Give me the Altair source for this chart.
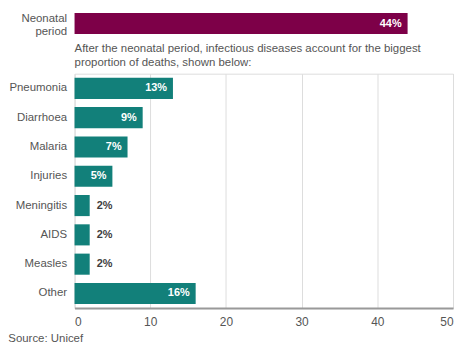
import altair as alt
import pandas as pd

top_cat = ["Neonatal period"]
top_val = [44]
causes = ["Pneumonia", "Diarrhoea", "Malaria", "Injuries", "Meningitis", "AIDS", "Measles", "Other"]
values = [13, 9, 7, 5, 2, 2, 2, 16]
x_ticks = [0, 10, 20, 30, 40, 50]
note = ["After the neonatal period, infectious diseases account for the biggest",
        "proportion of deaths, shown below:"]
source = "Source: Unicef"

FONT = "Liberation Sans"
GREY = "#555555"

top_df = pd.DataFrame({"cause": top_cat, "value": top_val})
top_df["label"] = top_df["value"].astype(str) + "%"
df = pd.DataFrame({"cause": causes, "value": values})
df["label"] = df["value"].astype(str) + "%"

xscale = alt.Scale(domain=[0, 50], nice=False)

ylab = dict(domain=False, ticks=False, labelFont=FONT, labelFontSize=11.5,
            labelColor=GREY, labelPadding=8, labelLineHeight=14)

top_base = alt.Chart(top_df).encode(
    y=alt.Y("cause:N", title=None,
            scale=alt.Scale(paddingInner=6 / 27, paddingOuter=3 / 27),
            axis=alt.Axis(labelExpr="split(datum.value, ' ')", labelOffset=-5, **ylab)),
    x=alt.X("value:Q", scale=xscale, axis=None),
)
top = alt.layer(
    top_base.mark_bar(color="#7d0048"),
    top_base.mark_text(align="right", dx=-6, color="white", fontWeight="bold",
                       fontSize=11, font=FONT).encode(text="label:N"),
).properties(width=381, height=27, view=alt.ViewBackground(stroke="transparent"))

bot_base = alt.Chart(df).encode(
    y=alt.Y("cause:N", title=None, sort=causes,
            scale=alt.Scale(paddingInner=0.28, paddingOuter=0.14),
            axis=alt.Axis(**ylab)),
    x=alt.X("value:Q", scale=xscale, title=None,
            axis=alt.Axis(values=x_ticks, grid=True, gridColor="#dddddd", ticks=False,
                          domainColor="#999999", domainWidth=2, labelFont=FONT,
                          labelFontSize=12, labelColor=GREY, labelPadding=8)),
)
bottom = alt.layer(
    bot_base.mark_bar(color="#12807a"),
    bot_base.transform_filter("datum.value >= 4").mark_text(
        align="right", dx=-6, color="white", fontWeight="bold", fontSize=11, font=FONT
    ).encode(text="label:N"),
    bot_base.transform_filter("datum.value < 4").mark_text(
        align="left", dx=7, color="#404040", fontWeight="bold", fontSize=11, font=FONT
    ).encode(text="label:N"),
).properties(
    width=381, height=236,
    view=alt.ViewBackground(stroke="#dddddd"),
    title=alt.TitleParams(note, anchor="start", frame="group", font=FONT, fontSize=11.5,
                          fontWeight="normal", color=GREY, lineHeight=14, offset=5),
)

chart = alt.vconcat(top, bottom, spacing=5).properties(
    padding=0,
    title=alt.TitleParams(source, orient="bottom", anchor="start", frame="bounds",
                          font=FONT, fontSize=11.5, fontWeight="normal", color=GREY, offset=6),
).configure_view(strokeWidth=1)

chart.save("out.html", embed_options={"renderer": "svg", "actions": False})
